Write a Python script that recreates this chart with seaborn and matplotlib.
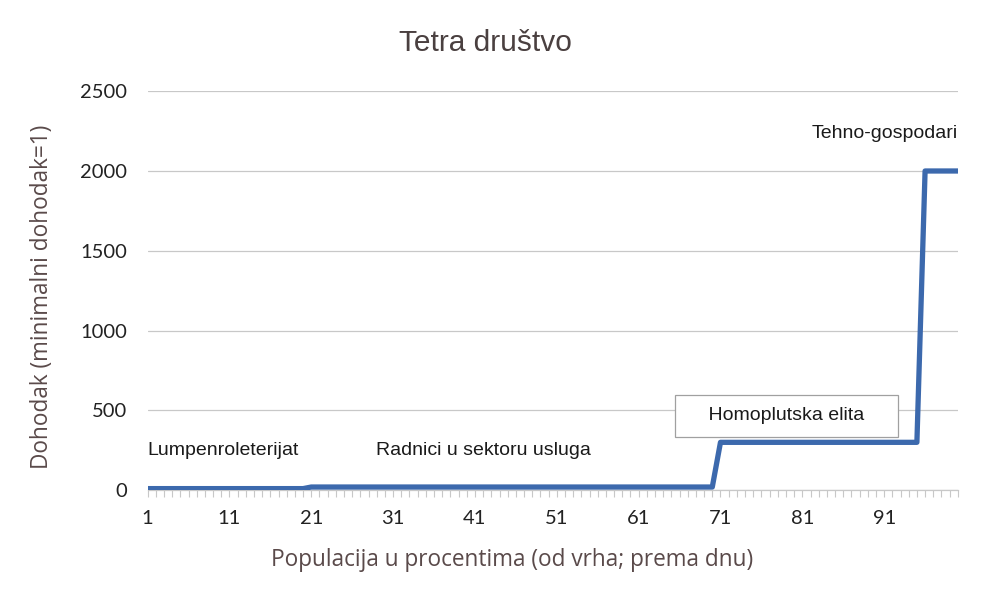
import numpy as np
import pandas as pd
import matplotlib.pyplot as plt
import seaborn as sns
from matplotlib.ticker import MultipleLocator

# ------------------------------------------------------------
# Data
# ------------------------------------------------------------
population = list(range(1, 101))          # percentile, from top to bottom
group_names = ["Lumpenroleterijat", "Radnici u sektoru usluga",
               "Homoplutska elita", "Tehno-gospodari"]
group_sizes = [20, 50, 25, 5]             # percent of population per group
group_income = [10, 20, 300, 2000]        # income, minimal income = 1
x_ticks = [1, 11, 21, 31, 41, 51, 61, 71, 81, 91]
y_ticks = [0, 500, 1000, 1500, 2000, 2500]

income = np.repeat(group_income, group_sizes)
df = pd.DataFrame({"pop": population, "income": income})

# ------------------------------------------------------------
# Plot
# ------------------------------------------------------------
sns.set_theme(style="white")
plt.rcParams["font.family"] = ["Liberation Sans", "DejaVu Sans"]

fig = plt.figure(figsize=(10.04, 6.12), dpi=100)
ax = fig.add_axes([0.147, 0.199, 0.807, 0.652])

sns.lineplot(data=df, x="pop", y="income", color="#3c69ad",
             linewidth=3.8, ax=ax, zorder=3)

ax.set_xlim(1, 100)
ax.set_ylim(0, 2500)
ax.set_xticks(x_ticks)
ax.set_yticks(y_ticks)
ax.xaxis.set_minor_locator(MultipleLocator(1))
ax.yaxis.grid(True, color="#c8c8c8", linewidth=0.9)
ax.xaxis.grid(False)
for s in ["left", "right", "top"]:
    ax.spines[s].set_visible(False)
ax.spines["bottom"].set_color("#c8c8c8")
ax.spines["bottom"].set_linewidth(0.9)

tick_font = {"family": ["Lato", "DejaVu Sans"], "size": 14.5}
ax.set_xticklabels([str(t) for t in x_ticks], fontdict=tick_font, color="#222222")
ax.set_yticklabels([str(t) for t in y_ticks], fontdict=tick_font, color="#222222")
ax.tick_params(axis="x", which="both", bottom=True, direction="out",
               color="#c8c8c8", width=0.8)
ax.tick_params(axis="x", which="major", length=5, pad=9)
ax.tick_params(axis="x", which="minor", length=5)
ax.tick_params(axis="y", length=0, pad=15)
ax.set_xlabel("")
ax.set_ylabel("")

# group labels
label_kw = dict(fontsize=14, color="#1a1a1a")
ax.text(1, 250, group_names[0], ha="left", va="center", **label_kw)
ax.text(28.9, 250, group_names[1], ha="left", va="center", **label_kw)
ax.text(79.1, 465, "    " + group_names[2] + "    ", ha="center",
        va="center", zorder=4,
        bbox=dict(boxstyle="square,pad=0.63", facecolor="white",
                  edgecolor="#a0a0a0", linewidth=0.9), **label_kw)
ax.text(100, 2235, group_names[3], ha="right", va="center", **label_kw)

# titles
fig.text(0.484, 0.93, "Tetra društvo", ha="center", va="center",
         fontsize=21.5, color="#4a4040")
fig.text(0.51, 0.085, "Populacija u procentima (od vrha; prema dnu)",
         ha="center", va="center", fontsize=16.3, color="#5a4a4a",
         family=["Open Sans", "DejaVu Sans"])
fig.text(0.042, 0.515, "Dohodak (minimalni dohodak=1)", ha="center",
         va="center", rotation=90, fontsize=16.3, color="#5a4a4a",
         family=["Open Sans", "DejaVu Sans"])

fig.savefig("out.png", dpi=100)
